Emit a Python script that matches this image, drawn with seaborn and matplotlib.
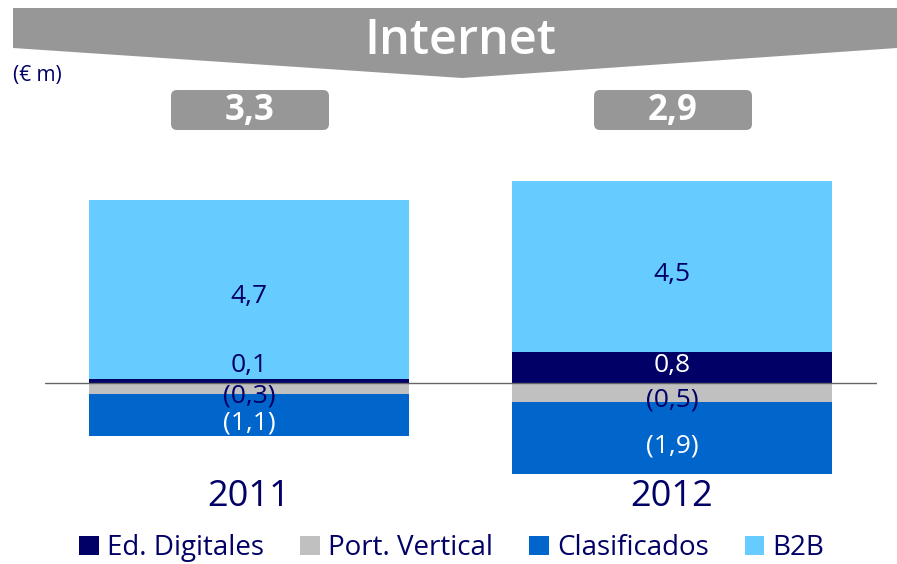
import matplotlib
matplotlib.use("Agg")
import matplotlib.pyplot as plt
from matplotlib.patches import Polygon, FancyBboxPatch, Patch
import seaborn as sns
import pandas as pd
import numpy as np

# Data (€ m)
years = ["2011", "2012"]
ed_digitales = [0.1, 0.8]
port_vertical = [-0.3, -0.5]
clasificados = [-1.1, -1.9]
b2b = [4.7, 4.5]
totals = ["3,3", "2,9"]
series_names = ["Ed. Digitales", "Port. Vertical", "Clasificados", "B2B"]

NAVY = "#000066"
GREY = "#C0C0C0"
BLUE = "#0066CC"
LIGHT = "#66CCFF"
BANNER = "#979797"

sns.set_theme(style="white")
plt.rcParams["font.family"] = ["Open Sans", "DejaVu Sans"]

W, H = 897, 564
fig = plt.figure(figsize=(W / 100, H / 100), dpi=100)


def fx(px):
    return px / W


def fy(py):
    return 1 - py / H


ax = fig.add_axes([fx(45), fy(480), fx(877) - fx(45), fy(175) - fy(480)])

ed = np.array(ed_digitales)
pv = np.array(port_vertical)
cl = np.array(clasificados)
bb = np.array(b2b)

# Stacked bars drawn as overlapping cumulative layers
layers = [
    (ed + bb, LIGHT),  # B2B on top of Ed. Digitales
    (ed, NAVY),
    (pv + cl, BLUE),   # Clasificados below Port. Vertical
    (pv, GREY),
]
for vals, col in layers:
    df = pd.DataFrame({"year": years, "value": vals})
    sns.barplot(data=df, x="year", y="value", color=col, width=0.757,
                saturation=1, linewidth=0, ax=ax, errorbar=None)

ax.set_xlim(-0.482, 1.485)
ax.set_ylim(-2.55, 5.45)
ax.axhline(0, color="#666666", linewidth=1.0)
ax.axis("off")


def fmt(v):
    s = f"{abs(v):.1f}".replace(".", ",")
    return f"({s})" if v < 0 else s


lab_fs = 19
for i in range(len(years)):
    # B2B label
    ax.text(i, ed[i] + bb[i] / 2 - 0.2, fmt(bb[i]), ha="center", va="center",
            color=NAVY, fontsize=lab_fs)
    # Ed. Digitales label
    y_ed = max(ed[i] / 2 - 0.05, 0.45)
    ax.text(i, y_ed, fmt(ed[i]), ha="center", va="center",
            color="white" if ed[i] > 0.4 else NAVY, fontsize=lab_fs)
    # Port. Vertical label
    ax.text(i, pv[i] / 2 - 0.2, fmt(pv[i]), ha="center", va="center",
            color=NAVY, fontsize=lab_fs)
    # Clasificados label
    ax.text(i, pv[i] + cl[i] / 2 - 0.2, fmt(cl[i]), ha="center", va="center",
            color="white", fontsize=lab_fs)
    # Year labels
    ax.text(i, -3.0, years[i], ha="center", va="center", color=NAVY,
            fontsize=26, clip_on=False)

# Title banner
banner = Polygon([(fx(13), fy(8)), (fx(897), fy(8)), (fx(897), fy(48)),
                  (fx(462), fy(78)), (fx(13), fy(48))],
                 closed=True, transform=fig.transFigure, facecolor=BANNER,
                 edgecolor="none")
fig.patches.append(banner)
fig.text(fx(460), fy(41), "Internet", ha="center", va="center", color="white",
         fontsize=35, fontweight="semibold")
fig.text(fx(13), fy(76), "(€ m)", ha="left", va="center", color=NAVY, fontsize=15)

# Total boxes
box_centers = [250, 673]
for cx, t in zip(box_centers, totals):
    bw, bh = 158, 40
    box = FancyBboxPatch((fx(cx - bw / 2 + 6), fy(130 - 6)), fx(bw - 12), (bh - 12) / H,
                         boxstyle=f"round,pad={6 / W}", transform=fig.transFigure,
                         facecolor=BANNER, edgecolor="none", mutation_aspect=W / H)
    fig.patches.append(box)
    fig.text(fx(cx), fy(111), t, ha="center", va="center", color="white",
             fontsize=25, fontweight="bold")

# Legend
handles = [Patch(facecolor=c, edgecolor="none") for c in [NAVY, GREY, BLUE, LIGHT]]
leg = fig.legend(handles, series_names, loc="center", bbox_to_anchor=(fx(452), fy(548)),
                 ncol=4, frameon=False, fontsize=20, handlelength=0.7, handleheight=0.7,
                 handletextpad=0.3, columnspacing=1.3, labelcolor=NAVY)

fig.savefig("out.png", dpi=100)
